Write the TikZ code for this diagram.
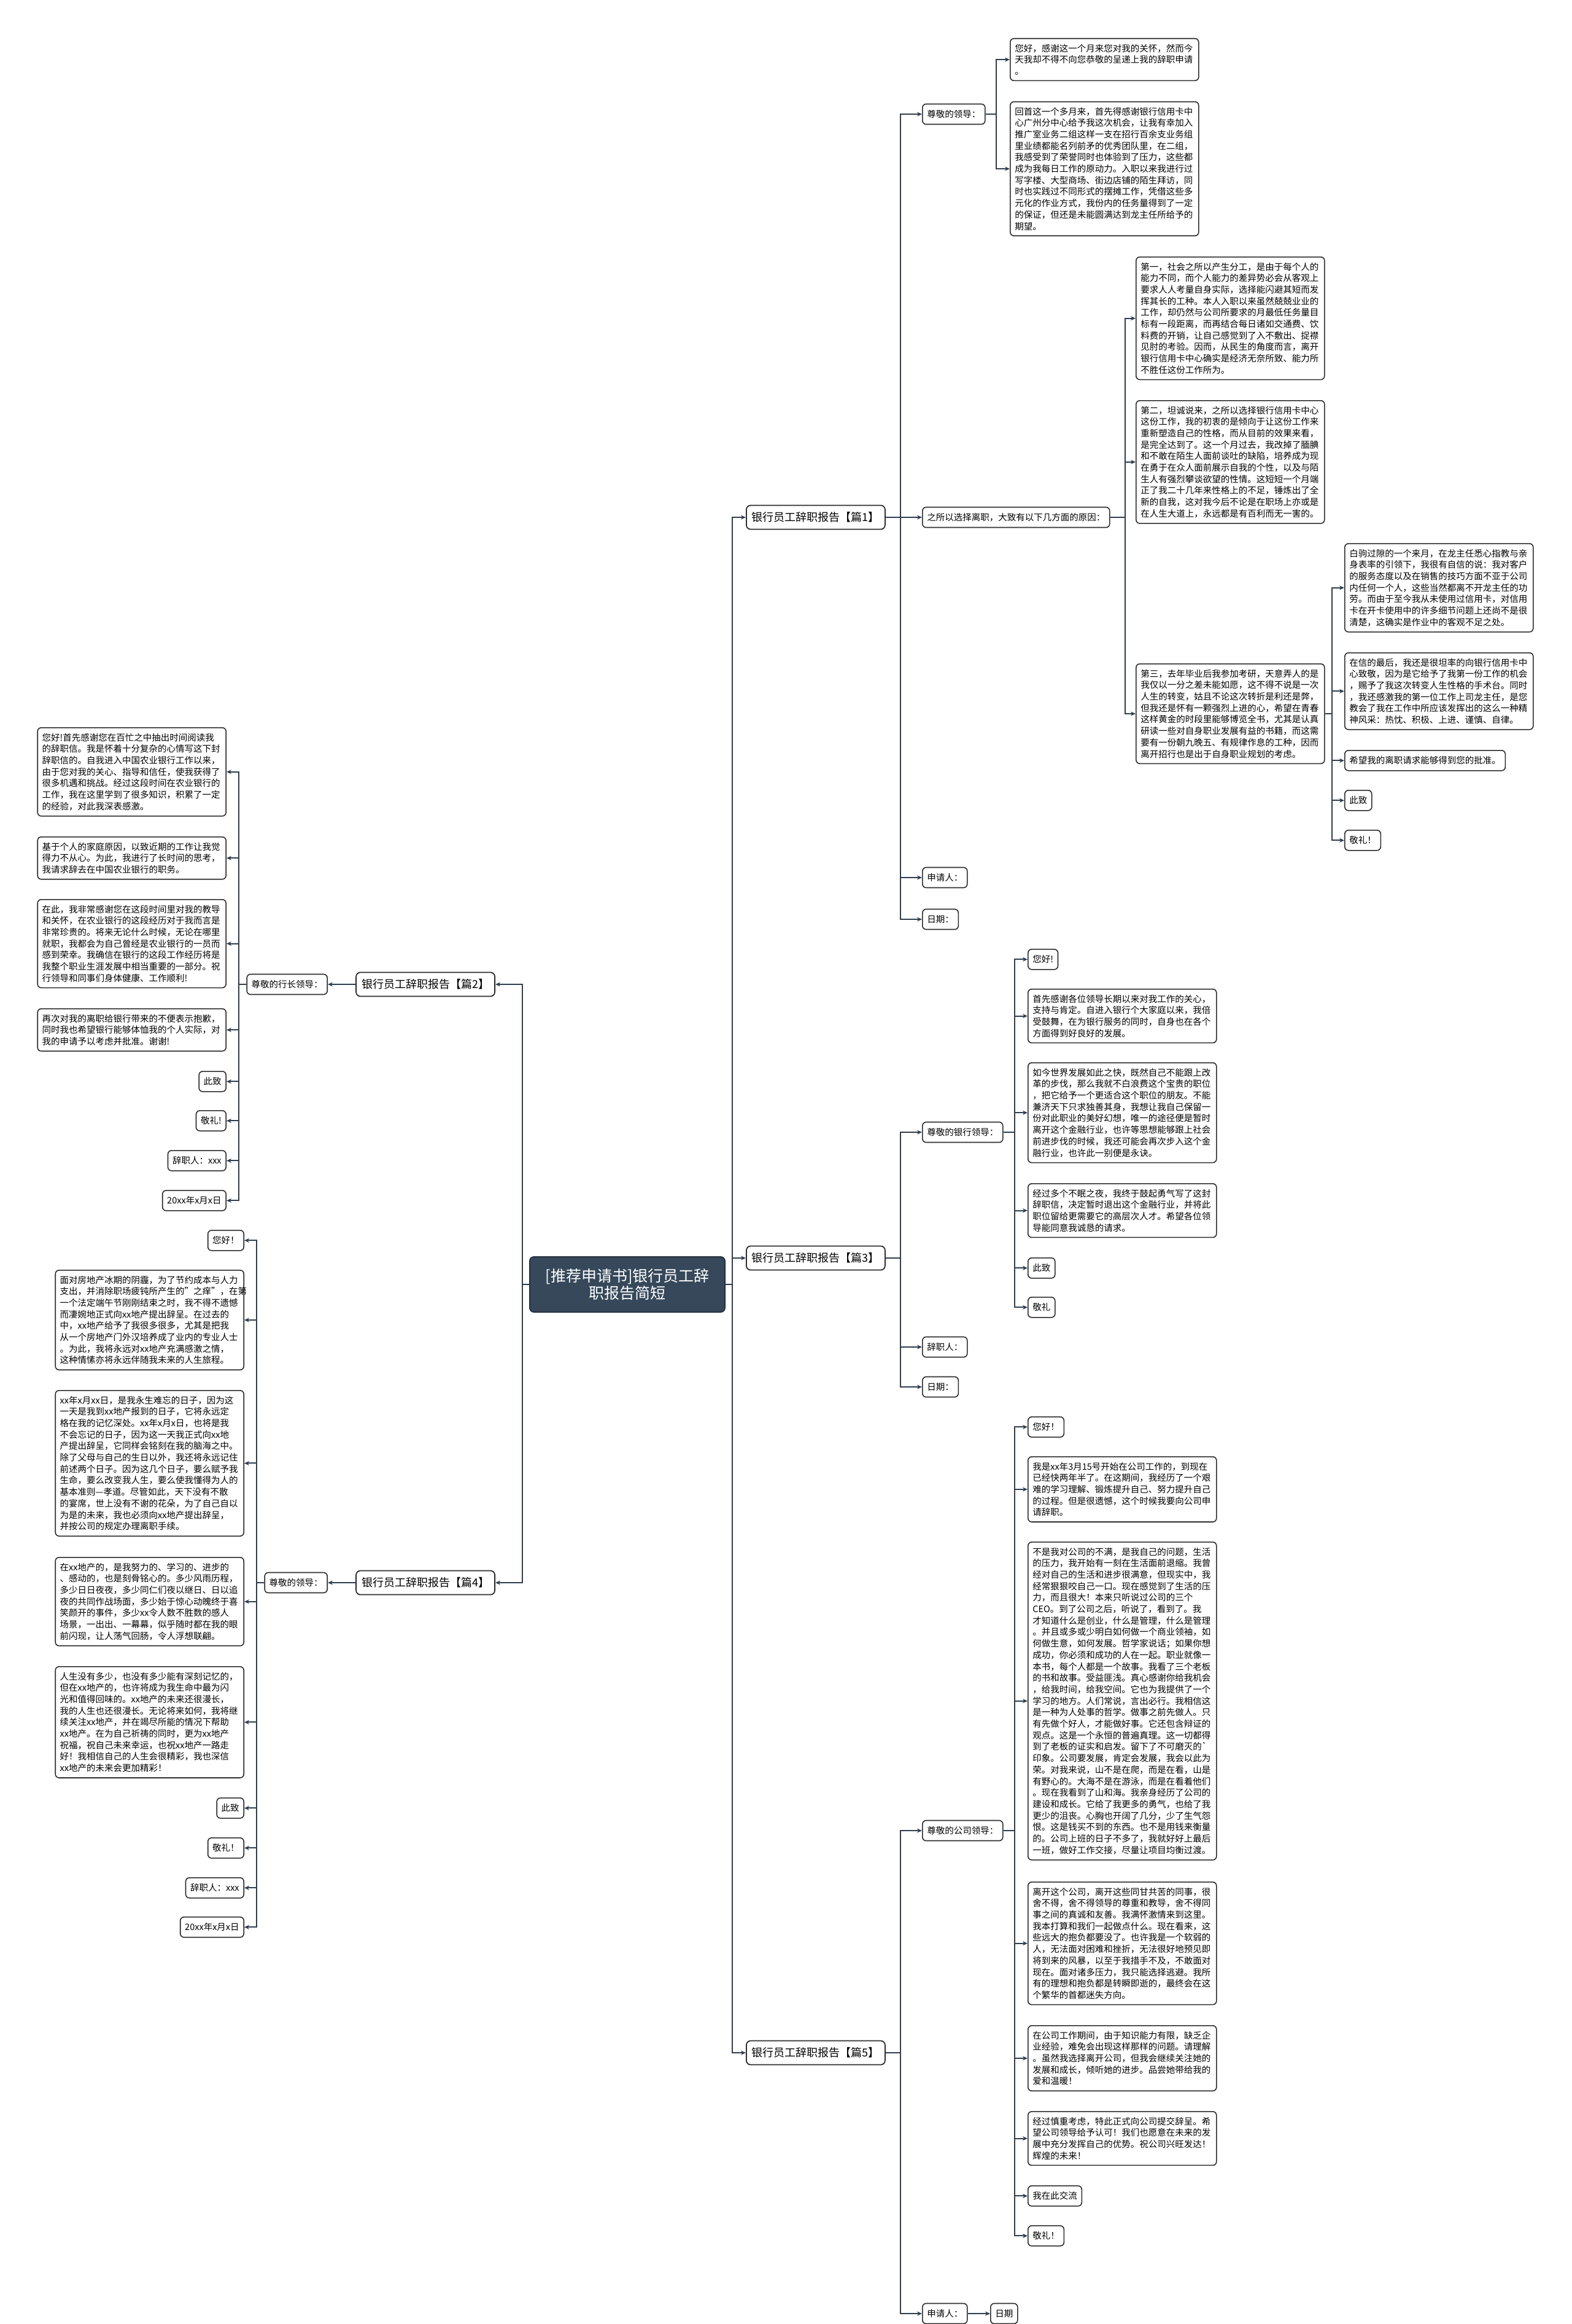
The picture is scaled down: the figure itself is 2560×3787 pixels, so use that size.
\documentclass[tikz,border=0pt]{standalone}
\usepackage{fontspec}
\setmainfont{Noto Sans CJK SC}
\usetikzlibrary{arrows.meta}
\definecolor{linkslate}{RGB}{47, 62, 78}
\definecolor{rootslate}{RGB}{54, 72, 90}
\definecolor{boxedge}{RGB}{45, 45, 45}

\begin{document}
\begin{tikzpicture}[x=1pt, y=-1pt,
  link/.style={draw=linkslate, line width=2pt, -{Stealth[length=8pt, width=7pt]}},
  rootbox/.style={draw=rootslate!70!black, fill=rootslate, text=white, rounded corners=7pt, line width=2pt,
    minimum width=318pt, minimum height=90pt, align=center, font=\fontsize{25}{28}\selectfont},
  branchbox/.style={draw=boxedge, fill=white, rounded corners=7pt, line width=1.8pt, inner xsep=9pt,
    minimum height=39pt, font=\fontsize{18}{22}\selectfont},
  labelbox/.style={draw=boxedge, fill=white, rounded corners=6pt, line width=1.6pt, inner xsep=7.5pt,
    inner ysep=9pt, minimum height=33pt, font=\fontsize{14.5}{18.7}\selectfont},
  parabox/.style={labelbox, text width=292pt, align=left}]
  \fill[white] (0,0) rectangle (2560,3787);
  \useasboundingbox (0,0) rectangle (2560,3787);

  % root - centre
  \node[rootbox] (root) at (1022,2093) {[推荐申请书]银行员工辞\\职报告简短};

  % branches
  \node[branchbox, anchor=west] (b1) at (1215,843) {银行员工辞职报告【篇1】};
  \node[branchbox, anchor=west] (b3) at (1215,2050) {银行员工辞职报告【篇3】};
  \node[branchbox, anchor=west] (b5) at (1215,3345) {银行员工辞职报告【篇5】};
  \node[branchbox, anchor=east] (b2) at (807,1604) {银行员工辞职报告【篇2】};
  \node[branchbox, anchor=east] (b4) at (807,2579) {银行员工辞职报告【篇4】};
  \draw[link] (root.east) -- ++(11,0) |- (b1.west);
  \draw[link] (root.east) -- ++(11,0) |- (b3.west);
  \draw[link] (root.east) -- ++(11,0) |- (b5.west);
  \draw[link] (root.west) -- ++(-11,0) |- (b2.east);
  \draw[link] (root.west) -- ++(-11,0) |- (b4.east);

  % PIAN 1 - top right
  \node[labelbox, anchor=west] (b1a) at (1502,186) {尊敬的领导：};
  \node[labelbox, anchor=west] (b1b) at (1502,843) {之所以选择离职，大致有以下几方面的原因：};
  \node[labelbox, anchor=west] (b1c) at (1502,1430) {申请人：};
  \node[labelbox, anchor=west] (b1d) at (1502,1498) {日期：};
  \draw[link] (b1.east) -- ++(24,0) |- (b1a.west);
  \draw[link] (b1.east) -- ++(24,0) |- (b1b.west);
  \draw[link] (b1.east) -- ++(24,0) |- (b1c.west);
  \draw[link] (b1.east) -- ++(24,0) |- (b1d.west);

  \node[parabox, anchor=north west] (b1a1) at (1645,62) {您好，感谢这一个月来您对我的关怀，然而今\\天我却不得不向您恭敬的呈递上我的辞职申请\\。};
  \node[parabox, anchor=north west] (b1a2) at (1645,165) {回首这一个多月来，首先得感谢银行信用卡中\\心广州分中心给予我这次机会，让我有幸加入\\推广室业务二组这样一支在招行百余支业务组\\里业绩都能名列前矛的优秀团队里，在二组，\\我感受到了荣誉同时也体验到了压力，这些都\\成为我每日工作的原动力。入职以来我进行过\\写字楼、大型商场、街边店铺的陌生拜访，同\\时也实践过不同形式的摆摊工作，凭借这些多\\元化的作业方式，我份内的任务量得到了一定\\的保证，但还是未能圆满达到龙主任所给予的\\期望。};
  \draw[link] (b1a.east) -- ++(17,0) |- (b1a1.west);
  \draw[link] (b1a.east) -- ++(17,0) |- (b1a2.west);

  \node[parabox, anchor=north west] (b1b1) at (1850,418) {第一，社会之所以产生分工，是由于每个人的\\能力不同，而个人能力的差异势必会从客观上\\要求人人考量自身实际，选择能闪避其短而发\\挥其长的工种。本人入职以来虽然兢兢业业的\\工作，却仍然与公司所要求的月最低任务量目\\标有一段距离，而再结合每日诸如交通费、饮\\料费的开销，让自己感觉到了入不敷出、捉襟\\见肘的考验。因而，从民生的角度而言，离开\\银行信用卡中心确实是经济无奈所致、能力所\\不胜任这份工作所为。};
  \node[parabox, anchor=north west] (b1b2) at (1850,652) {第二，坦诚说来，之所以选择银行信用卡中心\\这份工作，我的初衷的是倾向于让这份工作来\\重新塑造自己的性格，而从目前的效果来看，\\是完全达到了。这一个月过去，我改掉了腼腆\\和不敢在陌生人面前谈吐的缺陷，培养成为现\\在勇于在众人面前展示自我的个性，以及与陌\\生人有强烈攀谈欲望的性情。这短短一个月端\\正了我二十几年来性格上的不足，锤炼出了全\\新的自我，这对我今后不论是在职场上亦或是\\在人生大道上，永远都是有百利而无一害的。};
  \node[parabox, anchor=north west] (b1b3) at (1850,1081) {第三，去年毕业后我参加考研，天意弄人的是\\我仅以一分之差未能如愿，这不得不说是一次\\人生的转变，姑且不论这次转折是利还是弊，\\但我还是怀有一颗强烈上进的心，希望在青春\\这样黄金的时段里能够博览全书，尤其是认真\\研读一些对自身职业发展有益的书籍，而这需\\要有一份朝九晚五、有规律作息的工种，因而\\离开招行也是出于自身职业规划的考虑。};
  \draw[link] (b1b.east) -- ++(24,0) |- (b1b1.west);
  \draw[link] (b1b.east) -- ++(24,0) |- (b1b2.west);
  \draw[link] (b1b.east) -- ++(24,0) |- (b1b3.west);

  \node[parabox, anchor=north west] (b1c1) at (2190,885) {白驹过隙的一个来月，在龙主任悉心指教与亲\\身表率的引领下，我很有自信的说：我对客户\\的服务态度以及在销售的技巧方面不亚于公司\\内任何一个人，这些当然都离不开龙主任的功\\劳。而由于至今我从未使用过信用卡，对信用\\卡在开卡使用中的许多细节问题上还尚不是很\\清楚，这确实是作业中的客观不足之处。};
  \node[parabox, anchor=north west] (b1c2) at (2190,1063) {在信的最后，我还是很坦率的向银行信用卡中\\心致敬，因为是它给予了我第一份工作的机会\\，赐予了我这次转变人生性格的手术台。同时\\，我还感激我的第一位工作上司龙主任，是您\\教会了我在工作中所应该发挥出的这么一种精\\神风采：热忱、积极、上进、谨慎、自律。};
  \node[labelbox, anchor=north west] (b1c3) at (2190,1222) {希望我的离职请求能够得到您的批准。};
  \node[labelbox, anchor=north west] (b1c4) at (2190,1287) {此致};
  \node[labelbox, anchor=north west] (b1c5) at (2190,1352) {敬礼！};
  \draw[link] (b1b3.east) -- ++(11,0) |- (b1c1.west);
  \draw[link] (b1b3.east) -- ++(11,0) |- (b1c2.west);
  \draw[link] (b1b3.east) -- ++(11,0) |- (b1c3.west);
  \draw[link] (b1b3.east) -- ++(11,0) |- (b1c4.west);
  \draw[link] (b1b3.east) -- ++(11,0) |- (b1c5.west);

  % PIAN 2 - upper left
  \node[labelbox, anchor=east] (b2a) at (534,1604) {尊敬的行长领导：};
  \draw[link] (b2.west) -- (b2a.east);
  \node[parabox, anchor=north east] (b2a1) at (369,1185) {您好!首先感谢您在百忙之中抽出时间阅读我\\的辞职信。我是怀着十分复杂的心情写这下封\\辞职信的。自我进入中国农业银行工作以来，\\由于您对我的关心、指导和信任，使我获得了\\很多机遇和挑战。经过这段时间在农业银行的\\工作，我在这里学到了很多知识，积累了一定\\的经验，对此我深表感激。};
  \node[parabox, anchor=north east] (b2a2) at (369,1363) {基于个人的家庭原因，以致近期的工作让我觉\\得力不从心。为此，我进行了长时间的思考，\\我请求辞去在中国农业银行的职务。};
  \node[parabox, anchor=north east] (b2a3) at (369,1465) {在此，我非常感谢您在这段时间里对我的教导\\和关怀，在农业银行的这段经历对于我而言是\\非常珍贵的。将来无论什么时候，无论在哪里\\就职，我都会为自己曾经是农业银行的一员而\\感到荣幸。我确信在银行的这段工作经历将是\\我整个职业生涯发展中相当重要的一部分。祝\\行领导和同事们身体健康、工作顺利!};
  \node[parabox, anchor=north east] (b2a4) at (369,1643) {再次对我的离职给银行带来的不便表示抱歉，\\同时我也希望银行能够体恤我的个人实际，对\\我的申请予以考虑并批准。谢谢!};
  \node[labelbox, anchor=north east] (b2a5) at (369,1745) {此致};
  \node[labelbox, anchor=north east] (b2a6) at (369,1809) {敬礼!};
  \node[labelbox, anchor=north east] (b2a7) at (369,1874) {辞职人：xxx};
  \node[labelbox, anchor=north east] (b2a8) at (369,1939) {20xx年x月x日};
  \draw[link] (b2a.west) -- ++(-12,0) |- (b2a1.east);
  \draw[link] (b2a.west) -- ++(-12,0) |- (b2a2.east);
  \draw[link] (b2a.west) -- ++(-12,0) |- (b2a3.east);
  \draw[link] (b2a.west) -- ++(-12,0) |- (b2a4.east);
  \draw[link] (b2a.west) -- ++(-12,0) |- (b2a5.east);
  \draw[link] (b2a.west) -- ++(-12,0) |- (b2a6.east);
  \draw[link] (b2a.west) -- ++(-12,0) |- (b2a7.east);
  \draw[link] (b2a.west) -- ++(-12,0) |- (b2a8.east);

  % PIAN 3 - middle right
  \node[labelbox, anchor=west] (b3a) at (1502,1845) {尊敬的银行领导：};
  \node[labelbox, anchor=west] (b3b) at (1502,2195) {辞职人：};
  \node[labelbox, anchor=west] (b3c) at (1502,2260) {日期：};
  \draw[link] (b3.east) -- ++(24,0) |- (b3a.west);
  \draw[link] (b3.east) -- ++(24,0) |- (b3b.west);
  \draw[link] (b3.east) -- ++(24,0) |- (b3c.west);
  \node[labelbox, anchor=north west] (b3a1) at (1674,1546) {您好!};
  \node[parabox, anchor=north west] (b3a2) at (1674,1611) {首先感谢各位领导长期以来对我工作的关心，\\支持与肯定。自进入银行个大家庭以来，我倍\\受鼓舞，在为银行服务的同时，自身也在各个\\方面得到好良好的发展。};
  \node[parabox, anchor=north west] (b3a3) at (1674,1731) {如今世界发展如此之快，既然自己不能跟上改\\革的步伐，那么我就不白浪费这个宝贵的职位\\，把它给予一个更适合这个职位的朋友。不能\\兼济天下只求独善其身，我想让我自己保留一\\份对此职业的美好幻想，唯一的途径便是暂时\\离开这个金融行业，也许等思想能够跟上社会\\前进步伐的时候，我还可能会再次步入这个金\\融行业，也许此一别便是永诀。};
  \node[parabox, anchor=north west] (b3a4) at (1674,1928) {经过多个不眠之夜，我终于鼓起勇气写了这封\\辞职信，决定暂时退出这个金融行业，并将此\\职位留给更需要它的高层次人才。希望各位领\\导能同意我诚恳的请求。};
  \node[labelbox, anchor=north west] (b3a5) at (1674,2049) {此致};
  \node[labelbox, anchor=north west] (b3a6) at (1674,2113) {敬礼};
  \draw[link] (b3a.east) -- ++(18,0) |- (b3a1.west);
  \draw[link] (b3a.east) -- ++(18,0) |- (b3a2.west);
  \draw[link] (b3a.east) -- ++(18,0) |- (b3a3.west);
  \draw[link] (b3a.east) -- ++(18,0) |- (b3a4.west);
  \draw[link] (b3a.east) -- ++(18,0) |- (b3a5.west);
  \draw[link] (b3a.east) -- ++(18,0) |- (b3a6.west);

  % PIAN 4 - lower left
  \node[labelbox, anchor=east] (b4a) at (534,2579) {尊敬的领导：};
  \draw[link] (b4.west) -- (b4a.east);
  \node[labelbox, anchor=north east] (b4a1) at (398,2004) {您好！};
  \node[parabox, anchor=north east] (b4a2) at (398,2069) {面对房地产冰期的阴霾，为了节约成本与人力\\支出，并消除职场疲钝所产生的"之痒"，在第\\一个法定端午节刚刚结束之时，我不得不遗憾\\而凄婉地正式向xx地产提出辞呈。在过去的\\中，xx地产给予了我很多很多，尤其是把我\\从一个房地产门外汉培养成了业内的专业人士\\。为此，我将永远对xx地产充满感激之情，\\这种情愫亦将永远伴随我未来的人生旅程。};
  \node[parabox, anchor=north east] (b4a3) at (398,2265) {xx年x月xx日，是我永生难忘的日子，因为这\\一天是我到xx地产报到的日子，它将永远定\\格在我的记忆深处。xx年x月x日，也将是我\\不会忘记的日子，因为这一天我正式向xx地\\产提出辞呈，它同样会铭刻在我的脑海之中。\\除了父母与自己的生日以外，我还将永远记住\\前述两个日子。因为这几个日子，要么赋予我\\生命，要么改变我人生，要么使我懂得为人的\\基本准则—孝道。尽管如此，天下没有不散\\的宴席，世上没有不谢的花朵，为了自己自以\\为是的未来，我也必须向xx地产提出辞呈，\\并按公司的规定办理离职手续。};
  \node[parabox, anchor=north east] (b4a4) at (398,2537) {在xx地产的，是我努力的、学习的、进步的\\、感动的，也是刻骨铭心的。多少风雨历程，\\多少日日夜夜，多少同仁们夜以继日、日以追\\夜的共同作战场面，多少始于惊心动魄终于喜\\笑颜开的事件，多少xx令人数不胜数的感人\\场景，一出出、一幕幕，似乎随时都在我的眼\\前闪现，让人荡气回肠，令人浮想联翩。};
  \node[parabox, anchor=north east] (b4a5) at (398,2715) {人生没有多少，也没有多少能有深刻记忆的，\\但在xx地产的，也许将成为我生命中最为闪\\光和值得回味的。xx地产的未来还很漫长，\\我的人生也还很漫长。无论将来如何，我将继\\续关注xx地产，并在竭尽所能的情况下帮助\\xx地产。在为自己祈祷的同时，更为xx地产\\祝福，祝自己未来幸运，也祝xx地产一路走\\好！我相信自己的人生会很精彩，我也深信\\xx地产的未来会更加精彩！};
  \node[labelbox, anchor=north east] (b4a6) at (398,2929) {此致};
  \node[labelbox, anchor=north east] (b4a7) at (398,2994) {敬礼！};
  \node[labelbox, anchor=north east] (b4a8) at (398,3059) {辞职人：xxx};
  \node[labelbox, anchor=north east] (b4a9) at (398,3123) {20xx年x月x日};
  \draw[link] (b4a.west) -- ++(-12,0) |- (b4a1.east);
  \draw[link] (b4a.west) -- ++(-12,0) |- (b4a2.east);
  \draw[link] (b4a.west) -- ++(-12,0) |- (b4a3.east);
  \draw[link] (b4a.west) -- ++(-12,0) |- (b4a4.east);
  \draw[link] (b4a.west) -- ++(-12,0) |- (b4a5.east);
  \draw[link] (b4a.west) -- ++(-12,0) |- (b4a6.east);
  \draw[link] (b4a.west) -- ++(-12,0) |- (b4a7.east);
  \draw[link] (b4a.west) -- ++(-12,0) |- (b4a8.east);
  \draw[link] (b4a.west) -- ++(-12,0) |- (b4a9.east);

  % PIAN 5 - bottom right
  \node[labelbox, anchor=west] (b5a) at (1502,2983) {尊敬的公司领导：};
  \node[labelbox, anchor=west] (b5b) at (1502,3770) {申请人：};
  \node[labelbox, anchor=west] (b5c) at (1613,3770) {日期};
  \draw[link] (b5.east) -- ++(24,0) |- (b5a.west);
  \draw[link] (b5.east) -- ++(24,0) |- (b5b.west);
  \draw[link] (b5b.east) -- (b5c.west);
  \node[labelbox, anchor=north west] (b5a1) at (1674,2308) {您好！};
  \node[parabox, anchor=north west] (b5a2) at (1674,2373) {我是xx年3月15号开始在公司工作的，到现在\\已经快两年半了。在这期间，我经历了一个艰\\难的学习理解、锻炼提升自己、努力提升自己\\的过程。但是很遗憾，这个时候我要向公司申\\请辞职。};
  \node[parabox, anchor=north west] (b5a3) at (1674,2512) {不是我对公司的不满，是我自己的问题，生活\\的压力，我开始有一刻在生活面前退缩。我曾\\经对自己的生活和进步很满意，但现实中，我\\经常狠狠咬自己一口。现在感觉到了生活的压\\力，而且很大！本来只听说过公司的三个\\CEO。到了公司之后，听说了，看到了。我\\才知道什么是创业，什么是管理，什么是管理\\。并且或多或少明白如何做一个商业领袖，如\\何做生意，如何发展。哲学家说话；如果你想\\成功，你必须和成功的人在一起。职业就像一\\本书，每个人都是一个故事。我看了三个老板\\的书和故事。受益匪浅。真心感谢你给我机会\\，给我时间，给我空间。它也为我提供了一个\\学习的地方。人们常说，言出必行。我相信这\\是一种为人处事的哲学。做事之前先做人。只\\有先做个好人，才能做好事。它还包含辩证的\\观点。这是一个永恒的普遍真理。这一切都得\\到了老板的证实和启发。留下了不可磨灭的\textasciigrave\\印象。公司要发展，肯定会发展，我会以此为\\荣。对我来说，山不是在爬，而是在看，山是\\有野心的。大海不是在游泳，而是在看着他们\\。现在我看到了山和海。我亲身经历了公司的\\建设和成长。它给了我更多的勇气，也给了我\\更少的沮丧。心胸也开阔了几分，少了生气怨\\恨。这是钱买不到的东西。也不是用钱来衡量\\的。公司上班的日子不多了，我就好好上最后\\一班，做好工作交接，尽量让项目均衡过渡。};
  \node[parabox, anchor=north west] (b5a4) at (1674,3066) {离开这个公司，离开这些同甘共苦的同事，很\\舍不得，舍不得领导的尊重和教导，舍不得同\\事之间的真诚和友善。我满怀激情来到这里。\\我本打算和我们一起做点什么。现在看来，这\\些远大的抱负都要没了。也许我是一个软弱的\\人，无法面对困难和挫折，无法很好地预见即\\将到来的风暴，以至于我措手不及，不敢面对\\现在。面对诸多压力，我只能选择逃避。我所\\有的理想和抱负都是转瞬即逝的，最终会在这\\个繁华的首都迷失方向。};
  \node[parabox, anchor=north west] (b5a5) at (1674,3300) {在公司工作期间，由于知识能力有限，缺乏企\\业经验，难免会出现这样那样的问题。请理解\\。虽然我选择离开公司，但我会继续关注她的\\发展和成长，倾听她的进步。品尝她带给我的\\爱和温暖！};
  \node[parabox, anchor=north west] (b5a6) at (1674,3440) {经过慎重考虑，特此正式向公司提交辞呈。希\\望公司领导给予认可！我们也愿意在未来的发\\展中充分发挥自己的优势。祝公司兴旺发达！\\辉煌的未来！};
  \node[labelbox, anchor=north west] (b5a7) at (1674,3561) {我在此交流};
  \node[labelbox, anchor=north west] (b5a8) at (1674,3626) {敬礼！};
  \draw[link] (b5a.east) -- ++(18,0) |- (b5a1.west);
  \draw[link] (b5a.east) -- ++(18,0) |- (b5a2.west);
  \draw[link] (b5a.east) -- ++(18,0) |- (b5a3.west);
  \draw[link] (b5a.east) -- ++(18,0) |- (b5a4.west);
  \draw[link] (b5a.east) -- ++(18,0) |- (b5a5.west);
  \draw[link] (b5a.east) -- ++(18,0) |- (b5a6.west);
  \draw[link] (b5a.east) -- ++(18,0) |- (b5a7.west);
  \draw[link] (b5a.east) -- ++(18,0) |- (b5a8.west);
\end{tikzpicture}
\end{document}
